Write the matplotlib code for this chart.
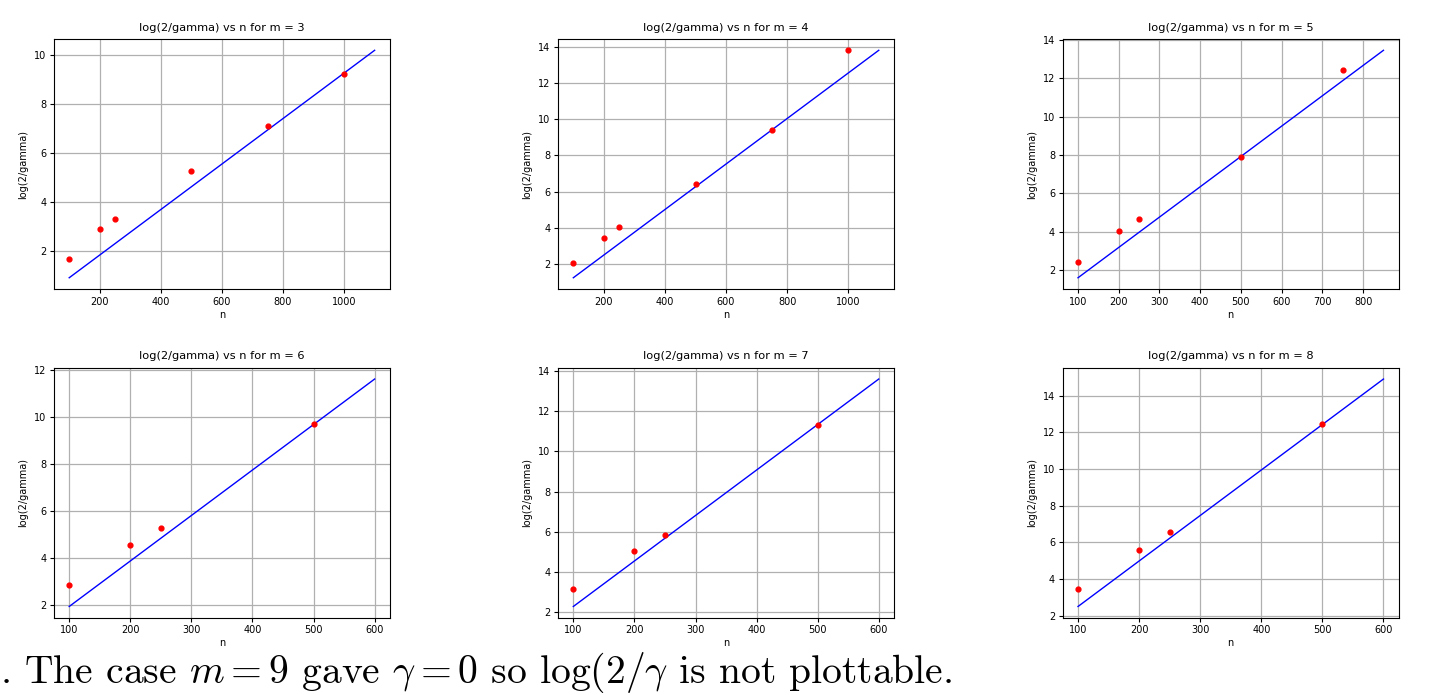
import matplotlib
matplotlib.use("Agg")
import matplotlib.pyplot as plt

plt.rcParams['mathtext.fontset'] = 'cm'

# values
m_values = [3, 4, 5, 6, 7, 8]

n_pts = {
    3: [100, 200, 250, 500, 750, 1000],
    4: [100, 200, 250, 500, 750, 1000],
    5: [100, 200, 250, 500, 750],
    6: [100, 200, 250, 500],
    7: [100, 200, 250, 500],
    8: [100, 200, 250, 500],
}
loggamma_pts = {
    3: [1.70, 2.90, 3.33, 5.28, 7.13, 9.25],
    4: [2.05, 3.45, 4.05, 6.45, 9.40, 13.80],
    5: [2.42, 4.02, 4.67, 7.90, 12.42],
    6: [2.85, 4.57, 5.30, 9.70],
    7: [3.17, 5.03, 5.85, 11.33],
    8: [3.45, 5.57, 6.55, 12.45],
}
# fitted line end points
fit_n = {
    3: [100, 1100],
    4: [100, 1100],
    5: [100, 850],
    6: [100, 600],
    7: [100, 600],
    8: [100, 600],
}
fit_y = {
    3: [0.92, 10.20],
    4: [1.25, 13.80],
    5: [1.60, 13.45],
    6: [1.95, 11.60],
    7: [2.28, 13.60],
    8: [2.50, 14.90],
}

caption = r". The case $m = 9$ gave $\gamma = 0$ so $\log(2/\gamma$ is not plottable."

fig = plt.figure(figsize=(14.42, 6.95), dpi=100)
fig.set_facecolor('white')

lefts = [0.0374, 0.387, 0.737]
bottoms = [0.584, 0.111]
w, h = 0.233, 0.360

for i, m in enumerate(m_values):
    ax = fig.add_axes([lefts[i % 3], bottoms[i // 3], w, h])
    ax.plot(fit_n[m], fit_y[m], color='blue', lw=1.0)
    ax.scatter(n_pts[m], loggamma_pts[m], color='red', s=12, zorder=3)
    ax.grid(True, color='#b0b0b0', lw=0.9)
    ax.set_title(f"log(2/gamma) vs n for m = {m}", fontsize=8.2)
    ax.set_xlabel("n", fontsize=7, labelpad=2)
    ax.set_ylabel("log(2/gamma)", fontsize=7)
    ax.tick_params(labelsize=7, width=0.8, length=3, pad=2.5)

fig.text(0.0, 0.017, caption, fontsize=28.5, fontfamily='cmr10', ha='left', va='baseline')

fig.savefig("out.png", dpi=100)
